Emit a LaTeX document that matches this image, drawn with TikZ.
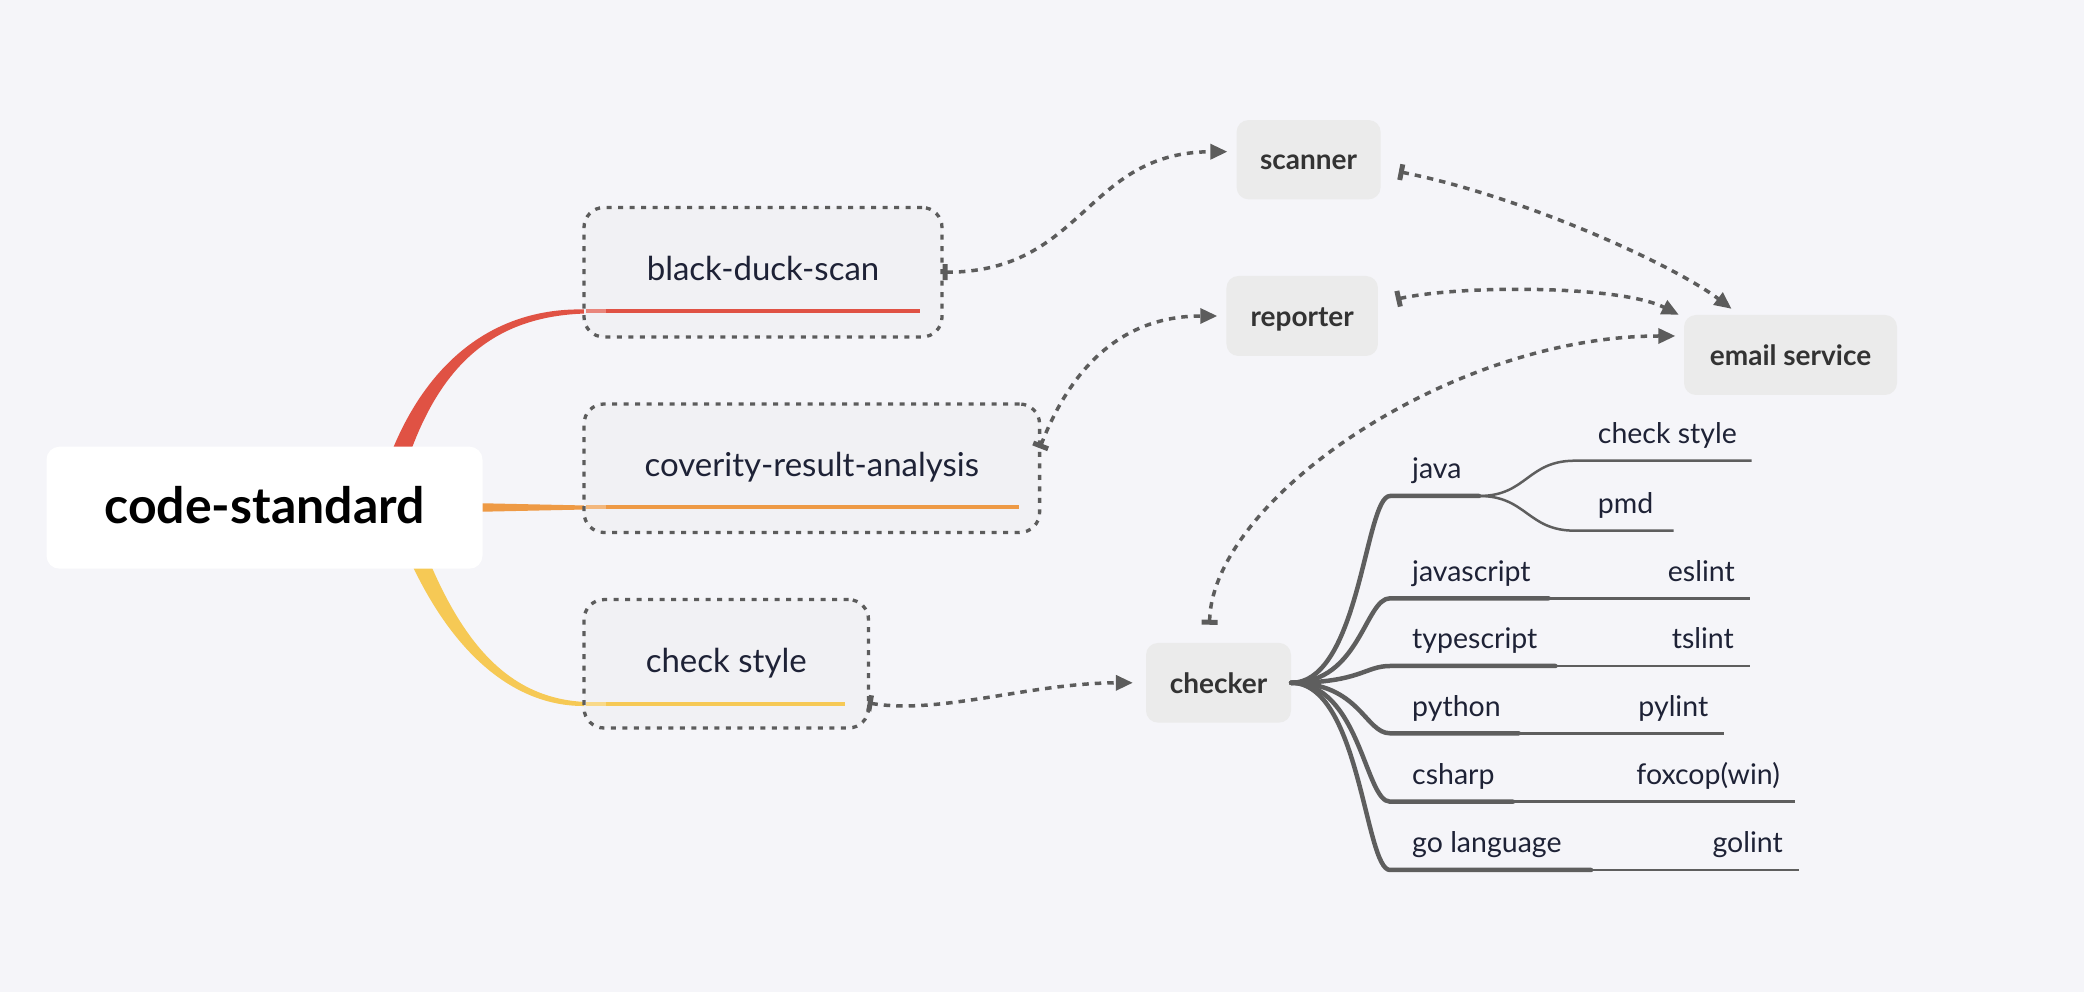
\documentclass[tikz,border=0pt]{standalone}
\usepackage{fontspec}
\setmainfont{Lato}
\usetikzlibrary{arrows.meta}
\definecolor{bgcol}{HTML}{F5F5F9}
\definecolor{boxfill}{HTML}{F1F1F4}
\definecolor{greyfill}{HTML}{EBEBEB}
\definecolor{dashgrey}{HTML}{5C5C5C}
\definecolor{treegrey}{HTML}{5E5E5E}
\definecolor{navy}{HTML}{1E2236}
\definecolor{darktext}{HTML}{333333}
\definecolor{brred}{HTML}{E05244}
\definecolor{brorange}{HTML}{EE9A45}
\definecolor{bryellow}{HTML}{F6C955}
\begin{document}
\begin{tikzpicture}[>=latex,line join=bevel,
  root/.style={fill=white,rounded corners=13bp,inner sep=0pt,text=black,text height=40.5bp,text depth=8bp,font=\fontsize{50bp}{58bp}\selectfont\bfseries},
  topic/.style={draw=dashgrey,line width=3.3bp,dash pattern=on 5bp off 6.5bp,fill=boxfill,rounded corners=20bp,inner sep=0pt,text=navy,text height=24bp,text depth=7.5bp,font=\fontsize{33bp}{40bp}\selectfont},
  greybox/.style={fill=greyfill,rounded corners=12bp,inner sep=0pt,text=darktext,text height=25.6bp,text depth=5bp,font=\fontsize{28bp}{34bp}\selectfont\bfseries},
  leaf/.style={inner sep=0pt,text=navy,font=\fontsize{28.5bp}{34bp}\selectfont},
  dotlink/.style={draw=dashgrey,line width=3.5bp,dash pattern=on 6.5bp off 6bp,{Bar[width=16bp,line width=5bp]}-{Triangle[length=17bp,width=15bp]}},
  thickbr/.style={draw=treegrey,line width=4.5bp,line cap=round,line join=round},
  thinbr/.style={draw=treegrey,line width=2.5bp},
]
%%
\fill [bgcol] (0bp,0bp) rectangle (2084bp,992bp);
\useasboundingbox (0bp,0bp) rectangle (2084bp,992bp);
%
\fill [brred] (374bp,485bp) .. controls (405bp,612bp) and (480bp,685.5bp) .. (586bp,682.5bp) -- (586bp,678.5bp) .. controls (480bp,675.5bp) and (425bp,612bp) .. (394bp,485bp) -- cycle;
\fill [brorange] (400bp,490.5bp) -- (586bp,486.5bp) -- (586bp,482.5bp) -- (400bp,478.5bp) -- cycle;
\fill [bryellow] (389bp,485bp) .. controls (430bp,362bp) and (500bp,284.5bp) .. (586bp,286bp) -- (586bp,290bp) .. controls (500bp,293.5bp) and (450bp,362bp) .. (409bp,485bp) -- cycle;
%
\node (node_root) at (264.5bp,484.3bp) [root,minimum width=436bp,minimum height=122bp] {code-standard};
\node (node_bds) at (763bp,719.75bp) [topic,minimum width=358bp,minimum height=129.5bp] {black-duck-scan};
\node (node_cov) at (811.8bp,523.75bp) [topic,minimum width=455.6bp,minimum height=128.5bp] {coverity-result-analysis};
\node (node_cs) at (726.25bp,328.2bp) [topic,minimum width=284.5bp,minimum height=128.4bp] {check style};
%
\coordinate (bds_a) at (586bp,680.5bp);
\coordinate (bds_b) at (920bp,680.5bp);
\coordinate (cov_a) at (586bp,484.5bp);
\coordinate (cov_b) at (1018.6bp,484.5bp);
\coordinate (cs_a) at (586bp,288bp);
\coordinate (cs_b) at (845bp,288bp);
\draw [brred,line width=4bp] (bds_a) -- (bds_b);
\draw [brorange,line width=4bp] (cov_a) -- (cov_b);
\draw [bryellow,line width=4bp] (cs_a) -- (cs_b);
\draw [brred!70!white,line width=4bp] (bds_a) -- ++(20bp,0bp);
\draw [brorange!70!white,line width=4bp] (cov_a) -- ++(20bp,0bp);
\draw [bryellow!70!white,line width=4bp] (cs_a) -- ++(20bp,0bp);
%
\node (node_scanner) at (1308.6bp,832.3bp) [greybox,minimum width=144bp,minimum height=79.3bp] {scanner};
\node (node_reporter) at (1302.2bp,676bp) [greybox,minimum width=151.5bp,minimum height=80bp] {reporter};
\node (node_email) at (1790.5bp,637bp) [greybox,minimum width=213bp,minimum height=80bp] {email service};
\node (node_checker) at (1218.5bp,309.2bp) [greybox,minimum width=145bp,minimum height=79.7bp] {checker};
%
\draw [dotlink] ([xshift=-1bp]node_bds.east) .. controls (1085bp,720bp) and (1085bp,840bp) .. ([xshift=-9bp,yshift=8bp]node_scanner.west);
\draw [dotlink] ([xshift=-1.5bp,yshift=20bp]node_cov.east) .. controls (1070bp,622bp) and (1120bp,676bp) .. ([xshift=-9bp]node_reporter.west);
\draw [dotlink] ([xshift=-2.5bp,yshift=-39bp]node_cs.east) .. controls (940bp,277bp) and (1030bp,309bp) .. ([xshift=-13bp]node_checker.west);
\draw [dotlink] ([xshift=18bp,yshift=-12bp]node_scanner.east) .. controls (1518bp,797bp) and (1671bp,729bp) .. ([xshift=-59bp,yshift=6bp]node_email.north);
\draw [dotlink] ([xshift=18bp,yshift=16.7bp]node_reporter.east) .. controls (1460bp,707bp) and (1620bp,707bp) .. ([xshift=-5bp]node_email.north west);
\draw [dotlink] ([xshift=-9bp,yshift=18bp]node_checker.north) .. controls (1212bp,492bp) and (1450bp,656bp) .. ([xshift=-8.5bp,yshift=19bp]node_email.west);
%
\coordinate (java_a) at (1390bp,496bp);
\coordinate (java_b) at (1479bp,496bp);
\coordinate (js_a) at (1390bp,393.7bp);
\coordinate (js_b) at (1548.6bp,393.7bp);
\coordinate (js_c) at (1749.5bp,393.7bp);
\coordinate (ts_a) at (1390bp,326bp);
\coordinate (ts_b) at (1555.4bp,326bp);
\coordinate (ts_c) at (1749.5bp,326bp);
\coordinate (py_a) at (1390bp,258.7bp);
\coordinate (py_b) at (1518.7bp,258.7bp);
\coordinate (py_c) at (1723.6bp,258.7bp);
\coordinate (cshp_a) at (1390bp,190.3bp);
\coordinate (cshp_b) at (1513bp,190.3bp);
\coordinate (cshp_c) at (1795bp,190.3bp);
\coordinate (go_a) at (1390bp,122bp);
\coordinate (go_b) at (1591bp,122bp);
\coordinate (go_c) at (1798.6bp,122bp);
\coordinate (chk_c) at (1751.7bp,531.3bp);
\coordinate (pmd_c) at (1673.6bp,461.3bp);
%
\draw [thickbr] (node_checker.east) .. controls (1360bp,309.2bp) and (1365bp,496bp) .. (java_a) -- (java_b);
\draw [thickbr] (node_checker.east) .. controls (1360bp,309.2bp) and (1365bp,393.7bp) .. (js_a) -- (js_b);
\draw [thickbr] (node_checker.east) .. controls (1360bp,309.2bp) and (1365bp,326bp) .. (ts_a) -- (ts_b);
\draw [thickbr] (node_checker.east) .. controls (1360bp,309.2bp) and (1365bp,258.7bp) .. (py_a) -- (py_b);
\draw [thickbr] (node_checker.east) .. controls (1360bp,309.2bp) and (1365bp,190.3bp) .. (cshp_a) -- (cshp_b);
\draw [thickbr] (node_checker.east) .. controls (1360bp,309.2bp) and (1365bp,122bp) .. (go_a) -- (go_b);
\draw [thinbr] (java_b) .. controls (1527bp,496bp) and (1527bp,531.3bp) .. (1575bp,531.3bp) -- (chk_c);
\draw [thinbr] (java_b) .. controls (1527bp,496bp) and (1527bp,461.3bp) .. (1575bp,461.3bp) -- (pmd_c);
\draw [thinbr] (js_b) -- (js_c);
\draw [thinbr] (ts_b) -- (ts_c);
\draw [thinbr] (py_b) -- (py_c);
\draw [thinbr] (cshp_b) -- (cshp_c);
\draw [thinbr] (go_b) -- (go_c);
%
\node (node_java) at (1412bp,513bp) [leaf,anchor=base west] {java};
\node (node_js) at (1412bp,410.7bp) [leaf,anchor=base west] {javascript};
\node (node_ts) at (1412bp,343bp) [leaf,anchor=base west] {typescript};
\node (node_py) at (1412bp,275.7bp) [leaf,anchor=base west] {python};
\node (node_cshp) at (1412bp,207.3bp) [leaf,anchor=base west] {csharp};
\node (node_go) at (1412bp,139bp) [leaf,anchor=base west] {go language};
\node (node_chk) at (1597.7bp,548.3bp) [leaf,anchor=base west] {check style};
\node (node_pmd) at (1597.7bp,478.3bp) [leaf,anchor=base west] {pmd};
\node (node_eslint) at (1735bp,410.7bp) [leaf,anchor=base east] {eslint};
\node (node_tslint) at (1734bp,343bp) [leaf,anchor=base east] {tslint};
\node (node_pylint) at (1708.4bp,275.7bp) [leaf,anchor=base east] {pylint};
\node (node_foxcop) at (1780bp,207.3bp) [leaf,anchor=base east] {foxcop(win)};
\node (node_golint) at (1783bp,139bp) [leaf,anchor=base east] {golint};
%
\end{tikzpicture}
\end{document}
